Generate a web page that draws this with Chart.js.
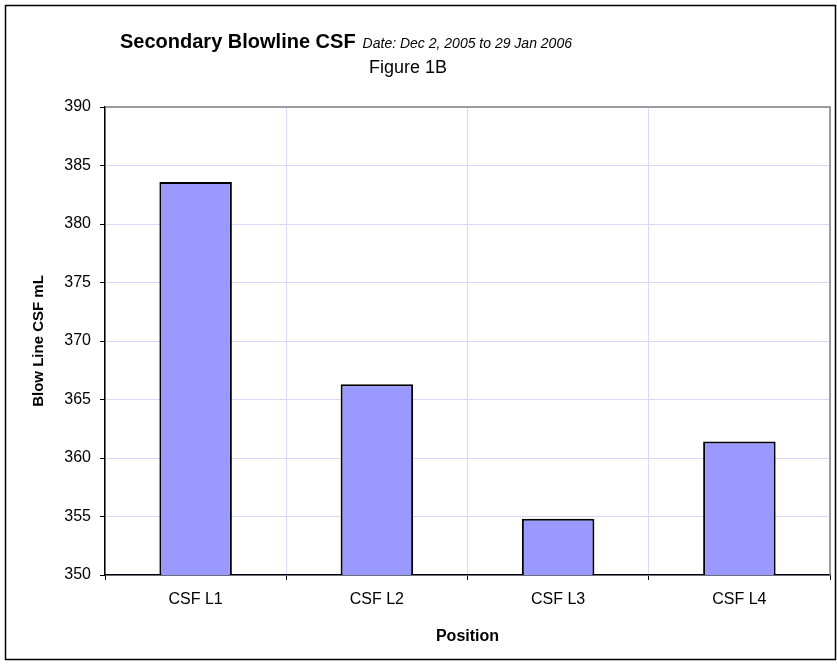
<!DOCTYPE html>
<html>
<head>
<meta charset="utf-8">
<script src="https://cdn.jsdelivr.net/npm/chart.js@4/dist/chart.umd.min.js"></script>
<style>
  html, body { margin: 0; padding: 0; background: #ffffff; }
  #wrap { width: 837px; height: 665px; position: relative; }
</style>
</head>
<body>
<div id="wrap"><canvas id="chart" width="837" height="665"></canvas></div>
<script>
// Blow line CSF by sampling position
const categories = ['CSF L1', 'CSF L2', 'CSF L3', 'CSF L4'];
const csfValues = [383.6, 366.3, 354.8, 361.4];
const yMin = 350;
const yMax = 390;
const yStep = 5;

const titleMain = 'Secondary Blowline CSF';
const titleDate = 'Date: Dec 2, 2005 to 29 Jan 2006';
const subtitleText = 'Figure 1B';
const yAxisTitle = 'Blow Line CSF mL';
const xAxisTitle = 'Position';

const FONT = 'Arial, "Liberation Sans", sans-serif';
const GRID = '#D8D8FA';

// Heading lines, outer frame and the grey top/right edge of the plot area
const decorPlugin = {
  id: 'decor',
  afterDraw(chart) {
    const ctx = chart.ctx;
    const a = chart.chartArea;
    ctx.save();
    // plot area top and right edges
    ctx.strokeStyle = '#808080';
    ctx.lineWidth = 1.5;
    ctx.beginPath();
    ctx.moveTo(a.left, a.top);
    ctx.lineTo(a.right, a.top);
    ctx.lineTo(a.right, a.bottom);
    ctx.stroke();

    // outer frame
    ctx.strokeStyle = '#000000';
    ctx.lineWidth = 1.5;
    ctx.strokeRect(5.5, 5.5, chart.width - 7, chart.height - 11);

    // main heading: bold name followed by italic date range
    ctx.fillStyle = '#000000';
    ctx.textBaseline = 'alphabetic';
    const boldFont = 'bold 20px ' + FONT;
    const italFont = 'italic 14px ' + FONT;
    const startX = 120;
    const gap = 7;
    const baseY = 48;
    ctx.textAlign = 'left';
    ctx.font = boldFont;
    const w1 = ctx.measureText(titleMain).width;
    ctx.fillText(titleMain, startX, baseY);
    ctx.font = italFont;
    ctx.fillText(titleDate, startX + w1 + gap, baseY);

    // figure label
    ctx.font = '18px ' + FONT;
    ctx.textAlign = 'center';
    ctx.fillText(subtitleText, 408, 73);
    ctx.restore();
  }
};

new Chart(document.getElementById('chart'), {
  type: 'bar',
  data: {
    labels: categories,
    datasets: [{
      data: csfValues,
      backgroundColor: '#9999FF',
      borderColor: '#000000',
      borderWidth: 2,
      barPercentage: 1,
      categoryPercentage: 0.4
    }]
  },
  options: {
    responsive: false,
    animation: false,
    devicePixelRatio: 1,
    layout: { padding: { top: 107, right: 7, left: 0, bottom: 0 } },
    plugins: {
      legend: { display: false },
      title: { display: false },
      tooltip: { enabled: false }
    },
    scales: {
      x: {
        offset: true,
        grid: {
          offset: true,
          color: GRID,
          lineWidth: 1,
          drawTicks: true,
          tickLength: 5,
          tickColor: '#000000'
        },
        border: { display: true, color: '#000000', width: 1.5 },
        ticks: {
          color: '#000000',
          font: { family: FONT, size: 16 },
          padding: 10,
          maxRotation: 0
        },
        title: {
          display: true,
          text: xAxisTitle,
          color: '#000000',
          font: { family: FONT, size: 16, weight: 'bold' },
          padding: { top: 0, bottom: 19 }
        },
        afterFit(scale) { scale.height = 90; }
      },
      y: {
        min: yMin,
        max: yMax,
        grid: {
          color: GRID,
          lineWidth: 1,
          drawTicks: true,
          tickLength: 5,
          tickColor: '#000000'
        },
        border: { display: true, color: '#000000', width: 1.5 },
        ticks: {
          stepSize: yStep,
          color: '#000000',
          font: { family: FONT, size: 16 },
          padding: 9
        },
        title: {
          display: true,
          text: yAxisTitle,
          color: '#000000',
          font: { family: FONT, size: 15, weight: 'bold' },
          padding: { top: 30, bottom: 0 }
        },
        afterFit(scale) { scale.width = 105; }
      }
    }
  },
  plugins: [decorPlugin]
});
</script>
</body>
</html>
